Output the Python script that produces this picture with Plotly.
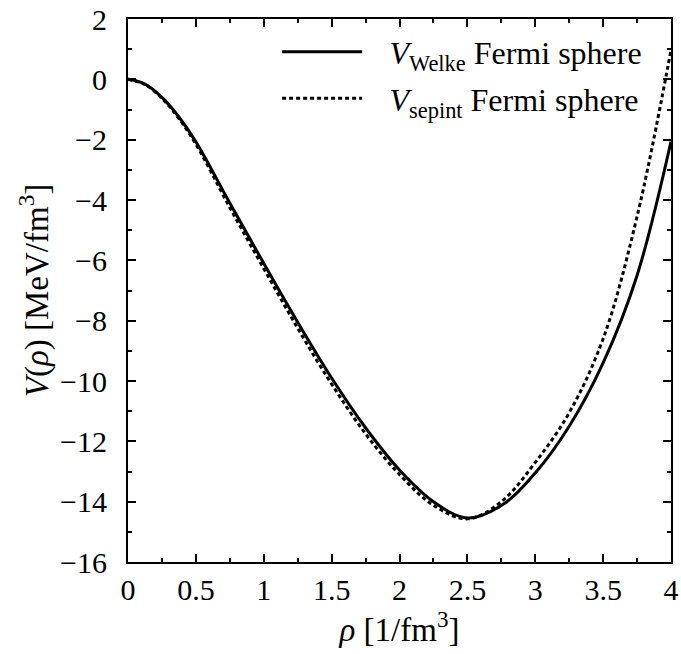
import plotly.graph_objects as go

# density grid [1/fm^3]
rho = [0.0, 0.125, 0.25, 0.375, 0.5, 0.75, 1.0, 1.25, 1.5, 1.75, 2.0, 2.25,
       2.5, 2.75, 3.0, 3.25, 3.5, 3.75, 4.0]

# potential energy density [MeV/fm^3]
v_welke = [0.0, -0.16, -0.6, -1.25, -2.07, -4.1, -6.1, -8.05, -9.9, -11.55,
           -12.95, -14.0, -14.54, -14.13, -13.05, -11.5, -9.4, -6.5, -2.06]
v_sepint = [0.0, -0.17, -0.63, -1.3, -2.15, -4.25, -6.27, -8.25, -10.1, -11.75,
            -13.1, -14.12, -14.57, -14.0, -12.7, -11.05, -8.6, -4.55, 0.97]

series_names = ["<i>V</i><sub>Welke</sub> Fermi sphere",
                "<i>V</i><sub>sepint</sub> Fermi sphere"]

x_ticks = [0, 0.5, 1, 1.5, 2, 2.5, 3, 3.5, 4]
x_ticktext = ["0", "0.5", "1", "1.5", "2", "2.5", "3", "3.5", "4"]
y_ticks = list(range(-16, 3, 2))

FONT = "Liberation Serif"
LEGEND_PAD = "\u2002\u2009"  # gap between line sample and label

fig = go.Figure()
fig.add_trace(go.Scatter(x=rho, y=v_welke, mode="lines",
                         name=LEGEND_PAD + series_names[0],
                         legendgroup="welke",
                         line=dict(color="black", width=3, shape="spline",
                                   smoothing=1.0)))
fig.add_trace(go.Scatter(x=rho, y=v_sepint, mode="lines",
                         name=LEGEND_PAD + series_names[1],
                         legendgroup="sepint",
                         line=dict(color="black", width=3, dash="4px,3px",
                                   shape="spline", smoothing=1.0)))

axis_common = dict(
    showline=True, linecolor="black", linewidth=2, mirror="allticks",
    ticks="inside", ticklen=8, tickwidth=1.5, tickcolor="black",
    showgrid=False, zeroline=False,
    tickfont=dict(family=FONT, size=30, color="black"),
)

fig.update_xaxes(range=[0, 4], tickvals=x_ticks, ticktext=x_ticktext,
                 minor=dict(dtick=0.25, ticks="inside", ticklen=4,
                            tickwidth=1.5, tickcolor="black"),
                 title=dict(text="<i>ρ</i> [1/fm<sup>3</sup>]",
                            font=dict(family=FONT, size=33, color="black"),
                            standoff=6),
                 **axis_common)
fig.update_yaxes(range=[-16, 2], tickvals=y_ticks,
                 minor=dict(dtick=1, ticks="inside", ticklen=4,
                            tickwidth=1.5, tickcolor="black"),
                 ticklabelstandoff=13,
                 title=dict(text="<i>V</i>(<i>ρ</i>) [MeV/fm<sup>3</sup>]",
                            font=dict(family=FONT, size=33, color="black"),
                            standoff=2),
                 **axis_common)

fig.update_layout(
    width=681, height=654,
    margin=dict(l=128, r=10, t=19, b=92, autoexpand=False),
    plot_bgcolor="white", paper_bgcolor="white",
    showlegend=True,
    legend=dict(x=0.956, y=0.99, xanchor="right", yanchor="top",
                bgcolor="rgba(0,0,0,0)", itemwidth=80,
                traceorder="grouped", tracegroupgap=2,
                font=dict(family=FONT, size=32, color="black")),
)

fig.write_html("out.html")
